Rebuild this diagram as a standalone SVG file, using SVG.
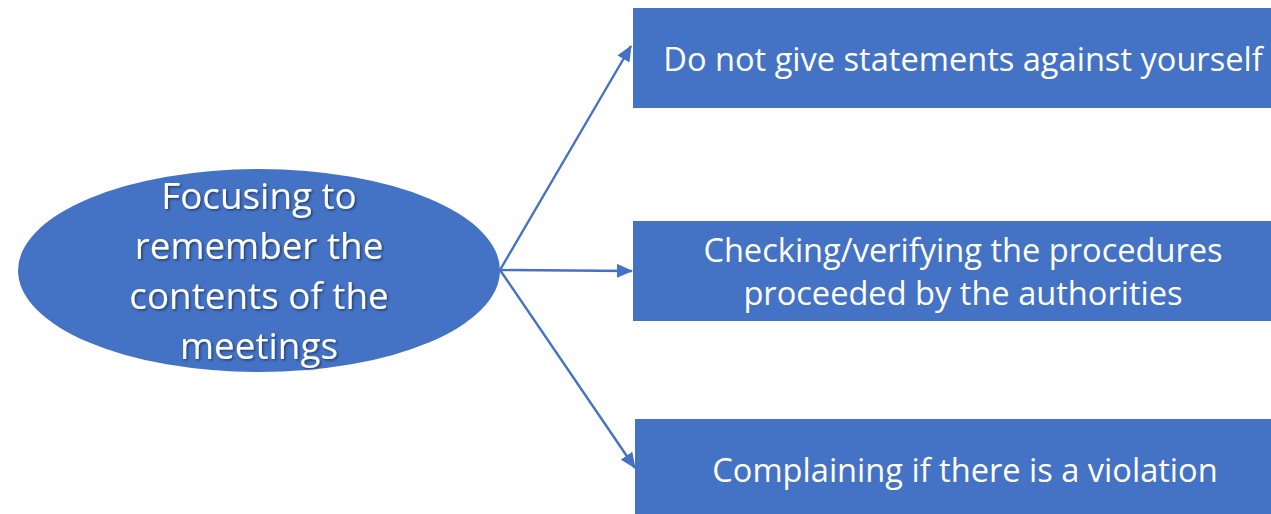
<svg xmlns="http://www.w3.org/2000/svg" width="1271" height="514" viewBox="0 0 1271 514">
<defs>
<style>
.node{fill:#4472C4}
.t{fill:#fff;font-family:"Open Sans","Liberation Sans",sans-serif;text-anchor:middle}
.big{font-size:36.8px}
.box{font-size:32.6px}
.edge{stroke:#4472C4;stroke-width:2.4;fill:none}
</style>
<marker id="ah" viewBox="0 0 16 14" refX="15" refY="7" markerWidth="16" markerHeight="14" markerUnits="userSpaceOnUse" orient="auto">
<path d="M0,0 L16,7 L0,14 Z" fill="#4472C4"/>
</marker>
<filter id="sh" x="-10%" y="-10%" width="120%" height="130%">
<feDropShadow dx="1.5" dy="1.5" stdDeviation="1" flood-color="#000" flood-opacity="0.45"/>
</filter>
</defs>
<g id="connectors">
<line class="edge" x1="500" y1="270" x2="631" y2="46" marker-end="url(#ah)"/>
<line class="edge" x1="500" y1="270" x2="632" y2="271" marker-end="url(#ah)"/>
<line class="edge" x1="500" y1="270" x2="635" y2="468" marker-end="url(#ah)"/>
</g>
<g id="center">
<ellipse class="node" cx="259" cy="270.5" rx="241" ry="101.5"/>
<g filter="url(#sh)">
<text class="t big" x="259" y="209">Focusing to</text>
<text class="t big" x="259" y="259">remember the</text>
<text class="t big" x="259" y="309">contents of the</text>
<text class="t big" x="259" y="359">meetings</text>
</g>
</g>
<g id="box1">
<rect class="node" x="633" y="8" width="660" height="100"/>
<text class="t box" x="963" y="71">Do not give statements against yourself</text>
</g>
<g id="box2">
<rect class="node" x="633" y="221" width="660" height="100"/>
<text class="t box" x="963" y="262">Checking/verifying the procedures</text>
<text class="t box" x="963" y="305">proceeded by the authorities</text>
</g>
<g id="box3">
<rect class="node" x="635" y="419" width="660" height="95"/>
<text class="t box" x="965" y="482">Complaining if there is a violation</text>
</g>
</svg>
